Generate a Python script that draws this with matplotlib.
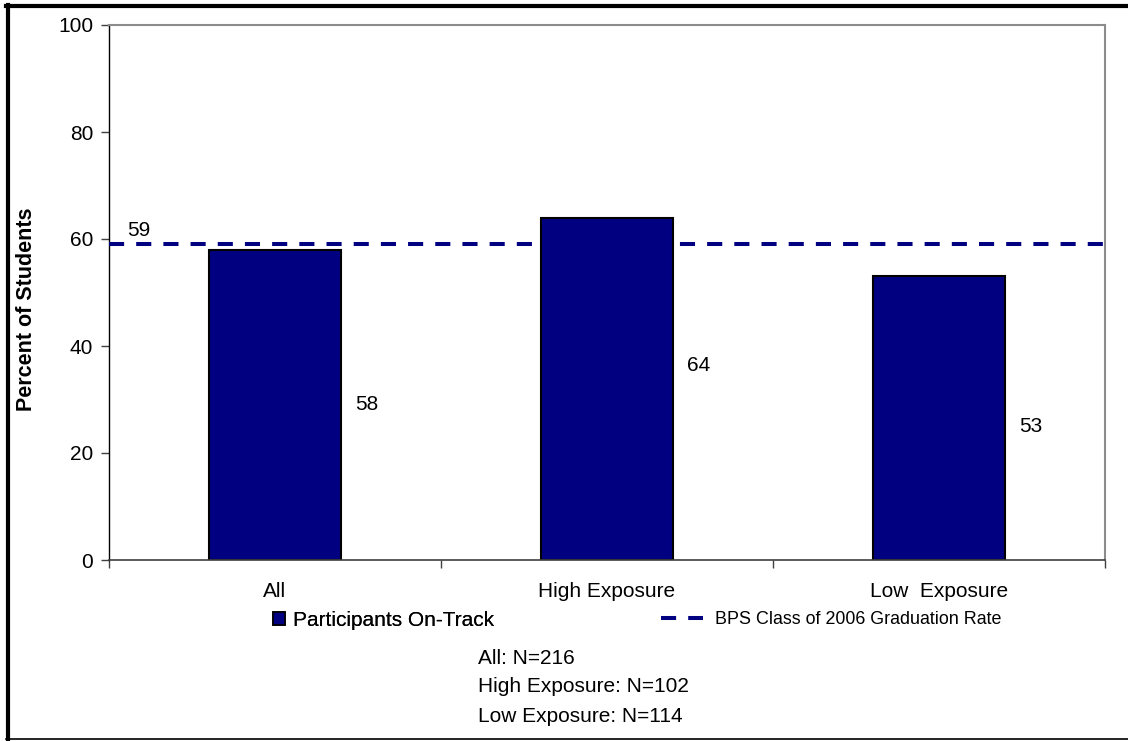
import matplotlib
matplotlib.use("Agg")
import matplotlib.pyplot as plt
from matplotlib.lines import Line2D
from matplotlib.patches import Patch

# ---- data ----
categories = ["All", "High Exposure", "Low  Exposure"]
on_track = [58, 64, 53]
grad_rate = 59
n_notes = ["All: N=216", "High Exposure: N=102", "Low Exposure: N=114"]
series_bar = "Participants On-Track"
series_line = "BPS Class of 2006 Graduation Rate"
y_ticks = [0, 20, 40, 60, 80, 100]

# ---- layout/style ----
label_y = [29, 36.4, 24.9]
NAVY = "#000080"
W, H, DPI = 1128, 741, 100
plt.rcParams["font.family"] = ["Liberation Sans", "DejaVu Sans"]
FS = 15

fig = plt.figure(figsize=(W / DPI, H / DPI), dpi=DPI)
fig.patch.set_facecolor("white")

def fx(px):
    return px / W

def fy(py):
    return 1 - py / H

ax = fig.add_axes([fx(109), fy(560), fx(1105) - fx(109), fy(25) - fy(560)])

x = list(range(len(categories)))
ax.bar(x, on_track, width=0.4, color=NAVY, edgecolor="black", linewidth=1.5, zorder=2)
ax.axhline(grad_rate, color=NAVY, linewidth=2.9, dashes=(3.75, 3.0), zorder=3)

for xi, v, ly in zip(x, on_track, label_y):
    ax.text(xi + 0.2 + 0.042, ly, f"{v}", fontsize=FS, ha="left", va="center")
ax.text(-0.5 + 0.056, grad_rate + 0.9, f"{grad_rate}", fontsize=FS, ha="left", va="bottom")

ax.set_xlim(-0.5, len(categories) - 0.5)
ax.set_ylim(0, 100)
ax.set_yticks(y_ticks)
ax.set_yticklabels([str(t) for t in y_ticks], fontsize=FS)
ax.tick_params(axis="y", direction="out", length=5.5, width=1, pad=6, color="#404040")

# category boundaries as major ticks, labels as minor ticks at centers
ax.set_xticks([i - 0.5 for i in range(len(categories) + 1)])
ax.set_xticklabels([])
ax.set_xticks(x, minor=True)
ax.set_xticklabels(categories, minor=True, fontsize=FS)
ax.tick_params(axis="x", which="major", direction="out", length=5.5, width=1, color="#404040")
ax.tick_params(axis="x", which="minor", length=0, pad=16)

ax.set_ylabel("Percent of Students", fontsize=FS + 0.5, fontweight="bold")
ax.yaxis.set_label_coords(-0.0723, 0.469)

ax.spines["left"].set_color("black")
ax.spines["left"].set_linewidth(1.0)
ax.spines["bottom"].set_color("#404040")
ax.spines["bottom"].set_linewidth(1.2)
for s in ("top", "right"):
    ax.spines[s].set_color("#8c8c8c")
    ax.spines[s].set_linewidth(1.5)

# legends
h1 = Patch(facecolor=NAVY, edgecolor="black", linewidth=1.2)
leg1 = fig.legend([h1], [series_bar], loc="center left", bbox_to_anchor=(fx(273), fy(620)),
                  frameon=False, fontsize=FS, borderpad=0, borderaxespad=0,
                  handlelength=0.58, handleheight=0.58, handletextpad=0.38)
h2 = Line2D([], [], color=NAVY, linewidth=2.9, dashes=(3.75, 3.0))
leg2 = fig.legend([h2], [series_line], loc="center left", bbox_to_anchor=(fx(661), fy(620)),
                  frameon=False, fontsize=12.9, borderpad=0, borderaxespad=0,
                  handlelength=2.35, handletextpad=0.65)
fig.add_artist(leg1)

# N notes
for i, t in enumerate(n_notes):
    fig.text(fx(478), fy(658 + 29 * i), t, fontsize=FS, ha="left", va="center")

# figure border
fig.add_artist(Line2D([fx(7.5), fx(7.5)], [fy(5), fy(739)], color="black", linewidth=3.0))
fig.add_artist(Line2D([fx(6), fx(1128)], [fy(5.5), fy(5.5)], color="black", linewidth=3.0))
fig.add_artist(Line2D([fx(6), fx(1128)], [fy(739), fy(739)], color="black", linewidth=1.2))

fig.savefig("out.png", dpi=DPI, facecolor="white")
